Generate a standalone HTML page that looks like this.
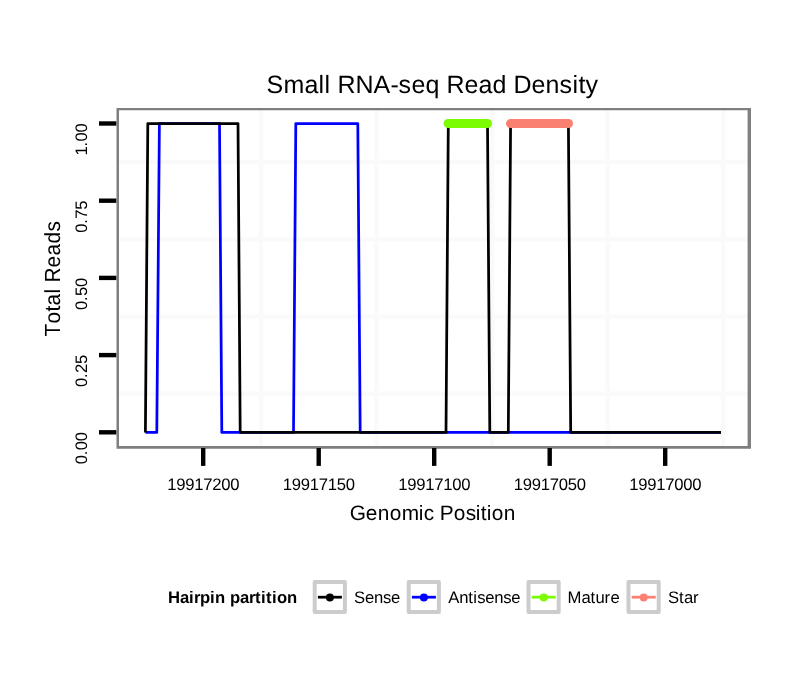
<!DOCTYPE html>
<html><head><meta charset="utf-8"><title>Small RNA-seq Read Density</title>
<style>
html,body{margin:0;padding:0;background:#fff;}
body{width:810px;height:690px;overflow:hidden;}
svg{display:block;will-change:transform;transform:translateZ(0);}
text{font-family:"Liberation Sans",sans-serif;fill:#000;font-kerning:none;text-rendering:geometricPrecision;}
</style></head><body>
<svg width="810" height="690" viewBox="0 0 810 690">
<rect width="810" height="690" fill="#fff"/>
<g stroke="#fafafa" stroke-width="4.4">
<line x1="117.7" x2="749.2" y1="162.0" y2="162.0"/>
<line x1="117.7" x2="749.2" y1="239.4" y2="239.4"/>
<line x1="117.7" x2="749.2" y1="316.6" y2="316.6"/>
<line x1="117.7" x2="749.2" y1="393.8" y2="393.8"/>
<line x1="261.0" x2="261.0" y1="109.2" y2="447.0"/>
<line x1="376.4" x2="376.4" y1="109.2" y2="447.0"/>
<line x1="492.2" x2="492.2" y1="109.2" y2="447.0"/>
<line x1="607.7" x2="607.7" y1="109.2" y2="447.0"/>
<line x1="723.2" x2="723.2" y1="109.2" y2="447.0"/>
</g>
<g fill="none" stroke-width="2.75" stroke-linejoin="round" stroke-linecap="butt">
<polyline stroke="#0000ff" points="145.4,432.45 156.8,432.45 159.4,123.6 219.5,123.6 221.8,432.45 293.5,432.45 295.8,123.6 357.8,123.6 360.2,432.45 721,432.45"/>
<polyline stroke="#000" points="145.4,432.45 147.8,123.6 238.0,123.6 240.2,432.45 446.0,432.45 448.3,123.6 487.5,123.6 489.8,432.45 508.3,432.45 510.6,123.6 568.4,123.6 570.7,432.45 721,432.45"/>
</g>
<line x1="448.1" x2="487.5" y1="123.5" y2="123.5" stroke="#7cfc00" stroke-width="9" stroke-linecap="round"/>
<line x1="510.5" x2="568.5" y1="123.5" y2="123.5" stroke="#fa8072" stroke-width="9" stroke-linecap="round"/>
<path fill="#7f7f7f" fill-rule="evenodd" d="M116.5 107.9H751.0V448.8H116.5ZM119 110.25V446H747.6V110.25Z"/>
<g stroke="#000" stroke-width="4.4">
<line x1="99" x2="116.3" y1="123.5" y2="123.5"/>
<line x1="99" x2="116.3" y1="200.7" y2="200.7"/>
<line x1="99" x2="116.3" y1="277.9" y2="277.9"/>
<line x1="99" x2="116.3" y1="355.1" y2="355.1"/>
<line x1="99" x2="116.3" y1="432.3" y2="432.3"/>
<line x1="203.2" x2="203.2" y1="448" y2="465.9"/>
<line x1="318.7" x2="318.7" y1="448" y2="465.9"/>
<line x1="434.2" x2="434.2" y1="448" y2="465.9"/>
<line x1="549.7" x2="549.7" y1="448" y2="465.9"/>
<line x1="665.2" x2="665.2" y1="448" y2="465.9"/>
</g>
<text transform="translate(432.60,92.60)" x="-166.00 -149.00 -128.00 -114.00 -108.00 -102.00 -95.00 -77.00 -59.00 -42.00 -34.00 -21.00 -7.00 7.00 14.00 32.00 46.00 60.00 74.00 81.00 99.00 113.00 127.00 140.00 146.00 153.00" y="0" font-size="25">Small RNA-seq Read Density</text>
<text transform="translate(203.20,490.20)" x="-36.00 -27.00 -18.00 -9.00 0.00 9.00 18.00 27.00" y="0" font-size="16.67">19917200</text>
<text transform="translate(318.70,490.20)" x="-36.00 -27.00 -18.00 -9.00 0.00 9.00 18.00 27.00" y="0" font-size="16.67">19917150</text>
<text transform="translate(434.20,490.20)" x="-36.00 -27.00 -18.00 -9.00 0.00 9.00 18.00 27.00" y="0" font-size="16.67">19917100</text>
<text transform="translate(549.70,490.20)" x="-36.00 -27.00 -18.00 -9.00 0.00 9.00 18.00 27.00" y="0" font-size="16.67">19917050</text>
<text transform="translate(665.20,490.20)" x="-36.00 -27.00 -18.00 -9.00 0.00 9.00 18.00 27.00" y="0" font-size="16.67">19917000</text>
<text transform="translate(432.70,519.60)" x="-83.00 -67.00 -55.00 -43.00 -31.00 -14.00 -9.00 1.00 7.00 21.00 33.00 43.00 48.00 54.00 59.00 71.00" y="0" font-size="20.83">Genomic Position</text>
<text transform="translate(87.00,123.50) rotate(-90)" x="-32.00 -23.00 -18.00 -9.00" y="0" font-size="16.67">1.00</text>
<text transform="translate(87.00,200.70) rotate(-90)" x="-32.00 -23.00 -18.00 -9.00" y="0" font-size="16.67">0.75</text>
<text transform="translate(87.00,277.90) rotate(-90)" x="-32.00 -23.00 -18.00 -9.00" y="0" font-size="16.67">0.50</text>
<text transform="translate(87.00,355.10) rotate(-90)" x="-32.00 -23.00 -18.00 -9.00" y="0" font-size="16.67">0.25</text>
<text transform="translate(87.00,432.30) rotate(-90)" x="-32.00 -23.00 -18.00 -9.00" y="0" font-size="16.67">0.00</text>
<text transform="translate(60.40,279.00) rotate(-90) scale(1,1.05)" x="-57.50 -44.50 -32.50 -26.50 -14.50 -9.50 -3.50 11.50 23.50 35.50 47.50" y="0" font-size="20.83">Total Reads</text>
<text transform="translate(168.00,602.60)" x="0.00 12.00 21.00 26.00 32.00 42.00 47.00 57.00 62.00 72.00 81.00 87.00 93.00 98.00 104.00 109.00 119.00" y="0" font-size="16.67" font-weight="bold">Hairpin partition</text>
<g fill="#fff" stroke="#ccc" stroke-width="4" stroke-linejoin="round">
<rect x="314.7" y="582" width="30.2" height="30"/>
<rect x="408.7" y="582" width="30.2" height="30"/>
<rect x="528.5" y="582" width="30.2" height="30"/>
<rect x="628.5" y="582" width="30.2" height="30"/>
</g><g stroke-width="2.75">
<line x1="317.9" x2="341.9" y1="597.2" y2="597.2" stroke="#000"/><circle cx="329.9" cy="597.4" r="4" fill="#000"/>
<line x1="411.9" x2="435.9" y1="597.2" y2="597.2" stroke="#0000ff"/><circle cx="423.9" cy="597.4" r="4" fill="#0000ff"/>
<line x1="531.7" x2="555.7" y1="597.2" y2="597.2" stroke="#7cfc00"/><circle cx="543.7" cy="597.4" r="4" fill="#7cfc00"/>
<line x1="631.7" x2="655.7" y1="597.2" y2="597.2" stroke="#fa8072"/><circle cx="643.7" cy="597.4" r="4" fill="#fa8072"/>
</g>
<text transform="translate(354.00,602.60)" x="0.00 11.00 20.00 29.00 37.00" y="0" font-size="16.67">Sense</text>
<text transform="translate(448.20,602.60)" x="0.00 11.00 20.00 25.00 29.00 37.00 46.00 55.00 63.00" y="0" font-size="16.67">Antisense</text>
<text transform="translate(567.60,602.60)" x="0.00 14.00 23.00 28.00 37.00 43.00" y="0" font-size="16.67">Mature</text>
<text transform="translate(668.00,602.60)" x="0.00 11.00 16.00 25.00" y="0" font-size="16.67">Star</text>
</svg>
</body></html>
